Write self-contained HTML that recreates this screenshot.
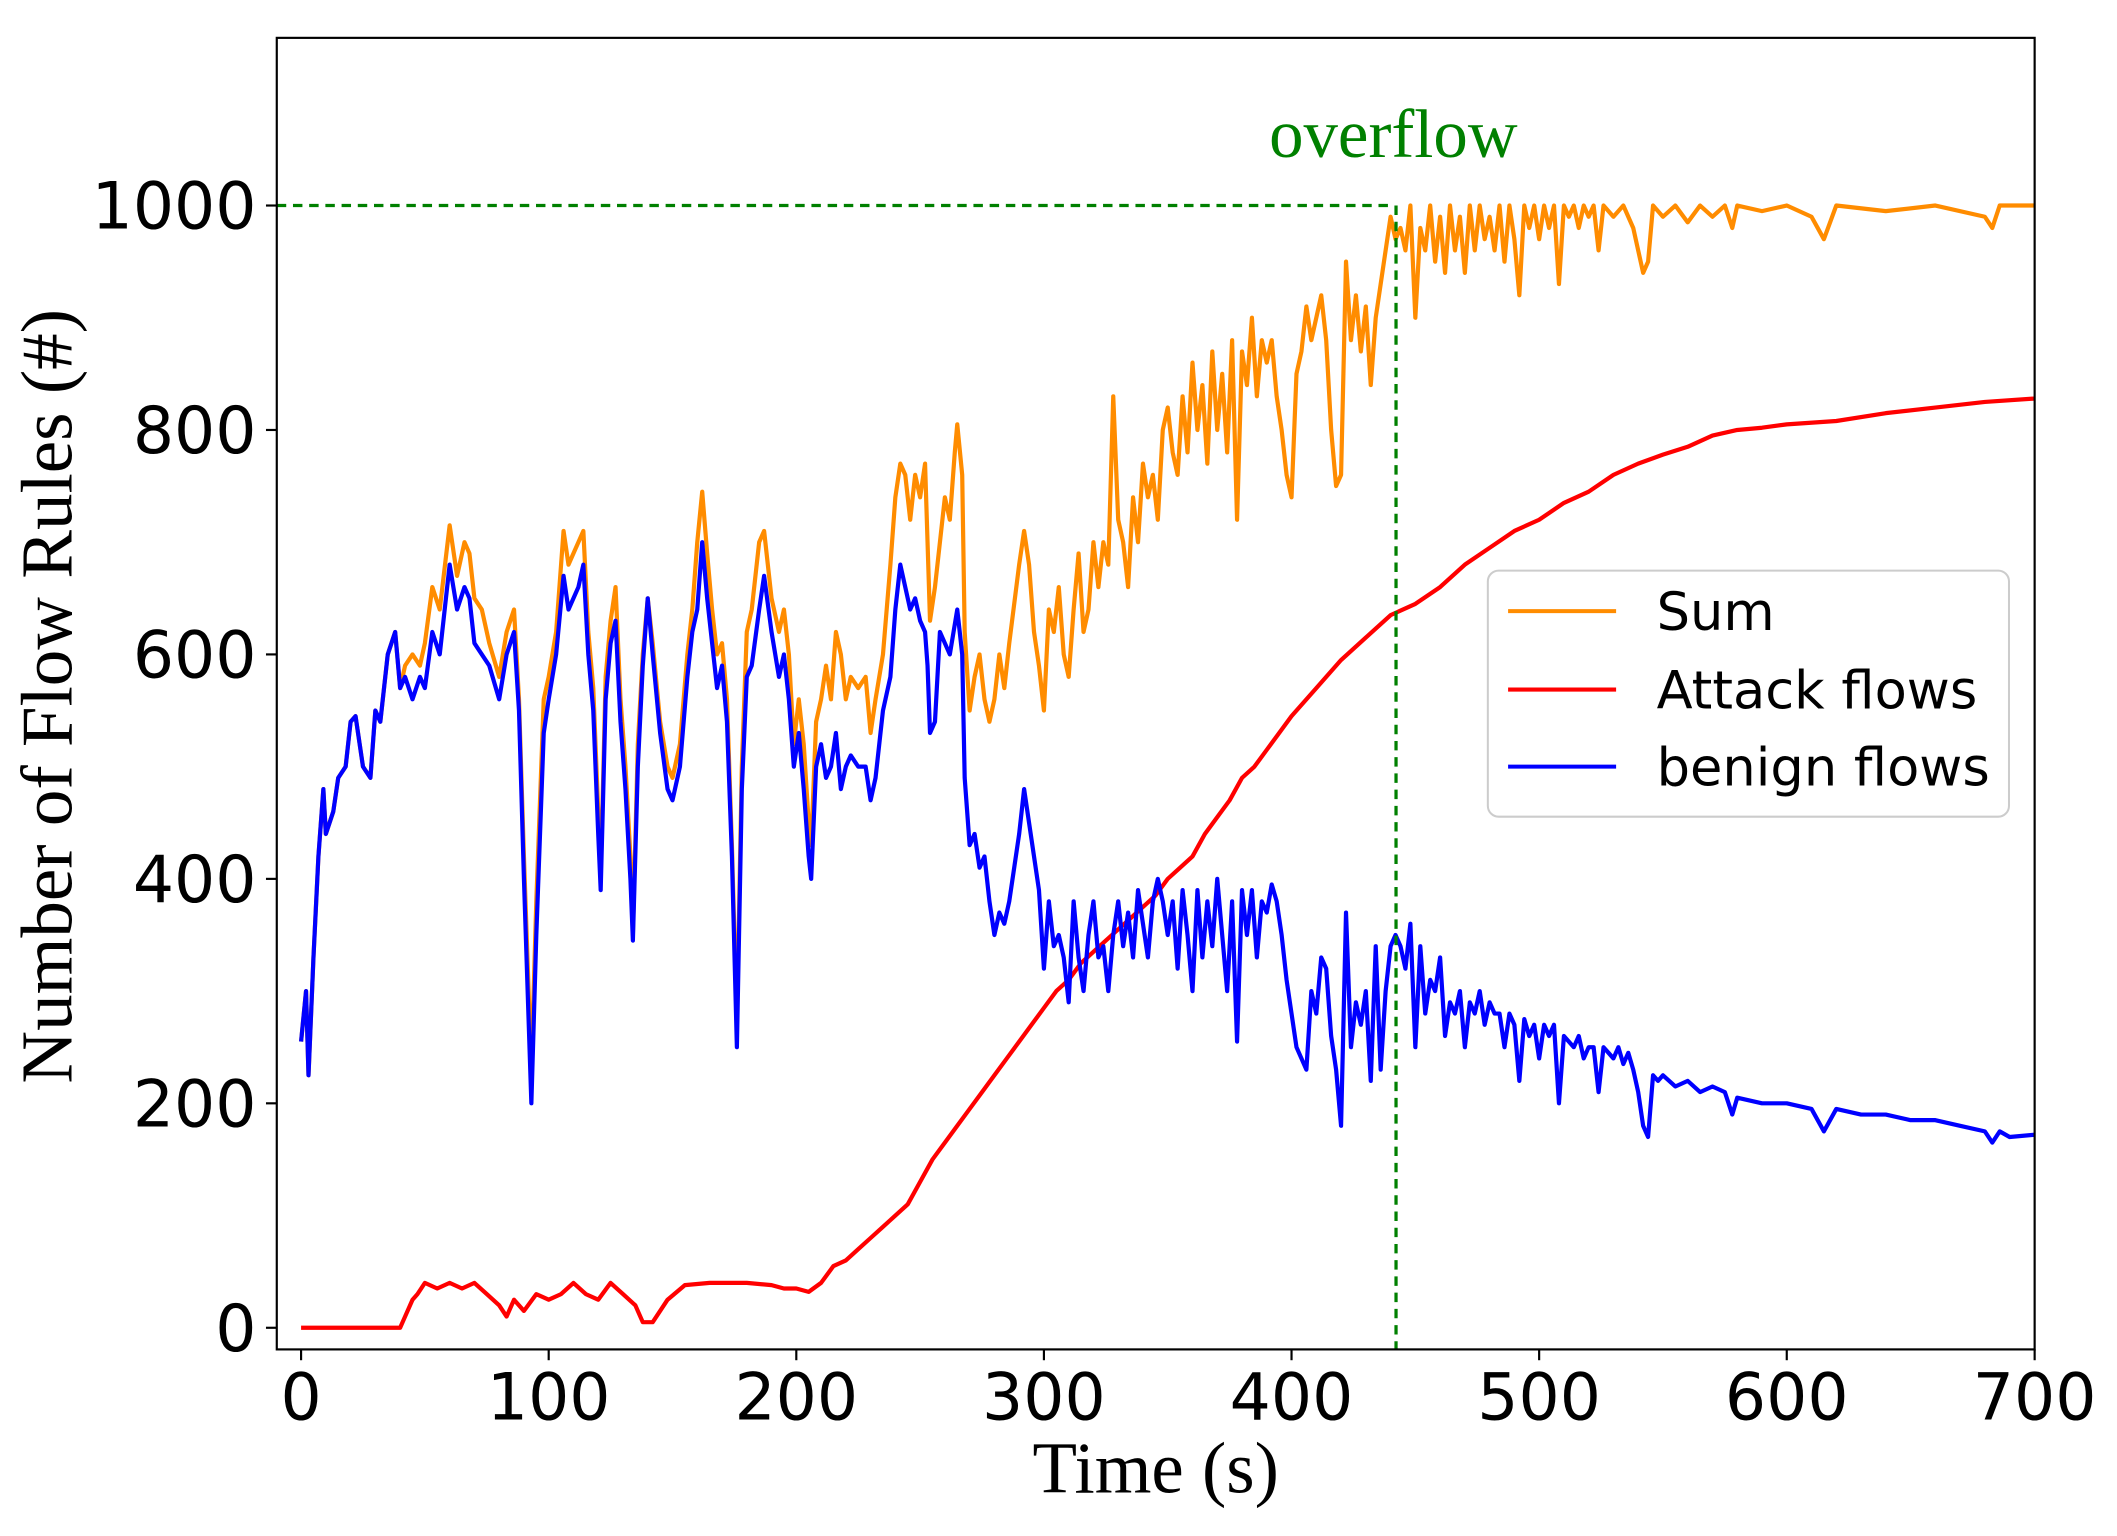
<!DOCTYPE html>
<html><head><meta charset="utf-8"><style>html,body{margin:0;padding:0;background:#fff}svg{display:block}</style></head>
<body>
<svg width="2117" height="1536" viewBox="0 0 1568 1136" preserveAspectRatio="none" xmlns="http://www.w3.org/2000/svg">
<rect x="0" y="0" width="1568" height="1136" fill="#fff"/>
<defs><clipPath id="c"><rect x="205" y="28" width="1302" height="970"/></clipPath></defs>
<g clip-path="url(#c)" fill="none" stroke-linejoin="round">
<g transform="translate(223,982) scale(1.834,-0.83)">
<polyline vector-effect="non-scaling-stroke" stroke="#ff8c00" stroke-width="4.2" points="0,255 2,300 3,225 5,330 7,420 9,480 10,440 13,460 15,490 18,500 20,540 22,545 25,500 28,490 30,550 32,540 35,600 38,620 40,570 42,590 45,600 48,590 50,610 53,660 56,640 60,715 63,670 66,700 68,690 70,650 73,640 76,610 80,580 83,620 86,640 88,560 90,420 93,230 95,380 98,560 100,580 103,620 106,710 108,680 112,700 114,710 116,620 118,570 120,460 121,400 123,580 125,630 127,660 129,560 131,500 133,420 134,350 136,520 138,600 140,650 142,610 145,540 148,500 150,490 153,520 156,600 158,640 160,700 162,745 164,690 166,640 168,600 170,610 172,560 174,430 176,270 178,500 180,620 182,640 185,700 187,710 190,650 193,620 195,640 197,600 199,520 201,560 203,520 205,450 206,430 208,540 210,560 212,590 214,560 216,620 218,600 220,560 222,580 225,570 228,580 230,530 232,560 235,600 238,680 240,740 242,770 244,760 246,720 248,760 250,740 252,770 253,700 254,630 256,660 258,700 260,740 262,720 264,780 265,805 267,760 268,620 270,550 272,580 274,600 276,560 278,540 280,560 282,600 284,570 286,610 290,680 292,710 294,680 296,620 298,590 300,550 302,640 304,620 306,660 308,600 310,580 312,640 314,690 316,620 318,640 320,700 322,660 324,700 326,680 328,830 330,720 332,700 334,660 336,740 338,700 340,770 342,740 344,760 346,720 348,800 350,820 352,780 354,760 356,830 358,780 360,860 362,800 364,840 366,770 368,870 370,800 372,850 374,780 376,880 378,720 380,870 382,840 384,900 386,830 388,880 390,860 392,880 394,830 396,800 398,760 400,740 402,850 404,870 406,910 408,880 410,900 412,920 414,880 416,800 418,750 420,760 422,950 424,880 426,920 428,870 430,910 432,840 434,900 436,930 438,960 440,990 442,970 444,980 446,960 448,1000 450,900 452,980 454,960 456,1000 458,950 460,990 462,940 464,1000 466,960 468,990 470,940 472,1000 474,960 476,1000 478,970 480,990 482,960 484,1000 486,950 488,1000 490,970 492,920 494,1000 496,980 498,1000 500,970 502,1000 504,980 506,1000 508,930 510,1000 512,990 514,1000 516,980 518,1000 520,990 522,1000 524,960 526,1000 530,990 534,1000 538,980 540,960 542,940 544,950 546,1000 550,990 555,1000 560,985 565,1000 570,990 575,1000 578,980 580,1000 590,995 600,1000 610,990 615,970 620,1000 640,995 660,1000 680,990 683,980 686,1000 700,1000"/>
<polyline vector-effect="non-scaling-stroke" stroke="#ff0000" stroke-width="4.2" points="0,0 40,0 42,10 45,25 47,30 50,40 55,35 60,40 65,35 70,40 75,30 80,20 83,10 86,25 90,15 95,30 100,25 105,30 110,40 115,30 120,25 125,40 130,30 135,20 138,5 142,5 148,25 155,38 165,40 180,40 190,38 195,35 200,35 205,32 210,40 215,55 220,60 225,70 230,80 235,90 240,100 245,110 250,130 255,150 260,165 265,180 270,195 275,210 280,225 285,240 290,255 295,270 300,285 305,300 310,310 315,325 320,335 325,345 330,355 335,365 340,375 345,385 350,400 355,410 360,420 365,440 370,455 375,470 380,490 385,500 390,515 395,530 400,545 410,570 420,595 430,615 440,635 450,645 460,660 470,680 480,695 490,710 500,720 510,735 520,745 530,760 540,770 550,778 560,785 570,795 580,800 590,802 600,805 620,808 640,815 660,820 680,825 700,828"/>
<polyline vector-effect="non-scaling-stroke" stroke="#0000ff" stroke-width="4.2" points="0,255 2,300 3,225 5,330 7,420 9,480 10,440 13,460 15,490 18,500 20,540 22,545 25,500 28,490 30,550 32,540 35,600 38,620 40,570 42,580 45,560 48,580 50,570 53,620 56,600 60,680 63,640 66,660 68,650 70,610 73,600 76,590 80,560 83,600 86,620 88,550 90,400 93,200 95,350 98,530 100,560 103,600 106,670 108,640 112,660 114,680 116,600 118,550 120,440 121,390 123,560 125,610 127,630 129,540 131,480 133,400 134,345 136,500 138,590 140,650 142,600 145,530 148,480 150,470 153,500 156,580 158,620 160,640 162,700 164,650 166,610 168,570 170,590 172,540 174,420 176,250 178,480 180,580 182,590 185,640 187,670 190,620 193,580 195,600 197,560 199,500 201,530 203,480 205,420 206,400 208,500 210,520 212,490 214,500 216,530 218,480 220,500 222,510 225,500 228,500 230,470 232,490 235,550 238,580 240,640 242,680 244,660 246,640 248,650 250,630 252,620 253,590 254,530 256,540 258,620 260,610 262,600 265,640 267,600 268,490 270,430 272,440 274,410 276,420 278,380 280,350 282,370 284,360 286,380 290,440 292,480 294,450 296,420 298,390 300,320 302,380 304,340 306,350 308,330 310,290 312,380 314,330 316,300 318,350 320,380 322,330 324,340 326,300 328,350 330,380 332,340 334,370 336,330 338,390 340,360 342,330 344,380 346,400 348,380 350,350 352,380 354,320 356,390 358,350 360,300 362,390 364,330 366,380 368,340 370,400 372,350 374,300 376,380 378,255 380,390 382,350 384,390 386,330 388,380 390,370 392,395 394,380 396,350 398,310 400,280 402,250 404,240 406,230 408,300 410,280 412,330 414,320 416,260 418,230 420,180 422,370 424,250 426,290 428,270 430,300 432,220 434,340 436,230 438,300 440,340 442,350 444,340 446,320 448,360 450,250 452,340 454,280 456,310 458,300 460,330 462,260 464,290 466,280 468,300 470,250 472,290 474,280 476,300 478,270 480,290 482,280 484,280 486,250 488,280 490,270 492,220 494,275 496,260 498,270 500,240 502,270 504,260 506,270 508,200 510,260 512,255 514,250 516,260 518,240 520,250 522,250 524,210 526,250 528,245 530,240 532,250 534,235 536,245 538,230 540,210 542,180 544,170 546,225 548,220 550,225 555,215 560,220 565,210 570,215 575,210 578,190 580,205 590,200 600,200 610,195 615,175 620,195 630,190 640,190 650,185 660,185 670,180 680,175 683,165 686,175 690,170 700,172"/>
</g>
<line x1="205" y1="152" x2="1032" y2="152" stroke="#008000" stroke-width="2.4" stroke-dasharray="7,5"/>
<line x1="1034" y1="152" x2="1034" y2="998" stroke="#008000" stroke-width="2.4" stroke-dasharray="7,5"/>
</g>
<rect x="205" y="28" width="1302" height="970" fill="none" stroke="#000" stroke-width="1.6"/>
<g stroke="#000" stroke-width="1.6">
<line x1="223" y1="998" x2="223" y2="1006"/><line x1="406.4" y1="998" x2="406.4" y2="1006"/><line x1="589.8" y1="998" x2="589.8" y2="1006"/><line x1="773.2" y1="998" x2="773.2" y2="1006"/><line x1="956.6" y1="998" x2="956.6" y2="1006"/><line x1="1140" y1="998" x2="1140" y2="1006"/><line x1="1323.4" y1="998" x2="1323.4" y2="1006"/><line x1="1507" y1="998" x2="1507" y2="1006"/>
<line x1="197" y1="982" x2="205" y2="982"/><line x1="197" y1="816" x2="205" y2="816"/><line x1="197" y1="650" x2="205" y2="650"/><line x1="197" y1="484" x2="205" y2="484"/><line x1="197" y1="318" x2="205" y2="318"/><line x1="197" y1="152" x2="205" y2="152"/>
</g>
<g font-family="'DejaVu Sans',sans-serif" font-size="48" fill="#000">
<g text-anchor="middle">
<text x="223" y="1050">0</text><text x="406.4" y="1050">100</text><text x="589.8" y="1050">200</text><text x="773.2" y="1050">300</text><text x="956.6" y="1050">400</text><text x="1140" y="1050">500</text><text x="1323.4" y="1050">600</text><text x="1507" y="1050">700</text>
</g>
<g text-anchor="end">
<text x="190" y="999">0</text><text x="190" y="833">200</text><text x="190" y="667">400</text><text x="190" y="501">600</text><text x="190" y="335">800</text><text x="190" y="169">1000</text>
</g>
</g>
<text x="856" y="1104" text-anchor="middle" font-family="'Liberation Serif',serif" font-size="54">Time (s)</text>
<text transform="translate(53,515) rotate(-90)" text-anchor="middle" font-family="'Liberation Serif',serif" font-size="54">Number of Flow Rules (#)</text>
<text x="1032" y="116" text-anchor="middle" font-family="'Liberation Serif',serif" font-size="51" fill="#008000">overflow</text>
<rect x="1102" y="422" width="386" height="182" rx="8" fill="#fff" fill-opacity="0.85" stroke="#ccc" stroke-width="1.5"/>
<line x1="1117" y1="452" x2="1197" y2="452" stroke="#ff8c00" stroke-width="3"/>
<line x1="1117" y1="510" x2="1197" y2="510" stroke="#ff0000" stroke-width="3"/>
<line x1="1117" y1="567" x2="1197" y2="567" stroke="#0000ff" stroke-width="3"/>
<g font-family="'DejaVu Sans',sans-serif" font-size="39" fill="#000">
<text x="1227" y="466">Sum</text><text x="1227" y="524">Attack flows</text><text x="1227" y="581">benign flows</text>
</g>
</svg>
</body></html>
